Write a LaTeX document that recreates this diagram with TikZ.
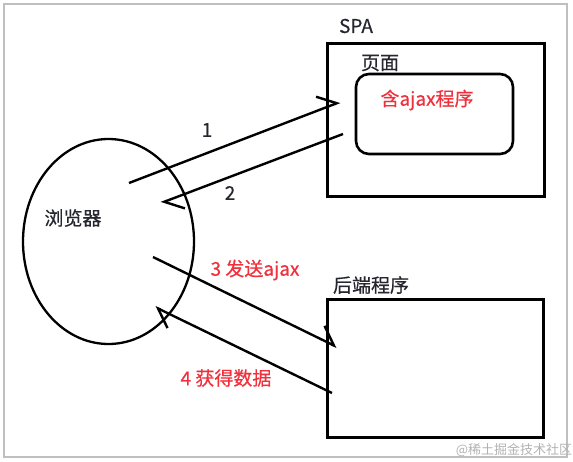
\documentclass[tikz,border=0pt]{standalone}
\usepackage{fontspec}
\setmainfont{Noto Sans CJK SC}[FakeBold=0.5]
\newfontfamily\wmfont{Noto Sans CJK SC}
\usetikzlibrary{shapes.geometric,arrows.meta}
\definecolor{redtxt}{HTML}{F0303C}
\definecolor{darktxt}{HTML}{262630}
\tikzset{
  boxst/.style={draw=black, line width=3pt, inner sep=0pt},
  lbl/.style={inner sep=0pt, font=\fontsize{19}{22}\selectfont, text=darktxt},
  redlbl/.style={lbl, text=redtxt},
  conn/.style={draw=black, line width=2.4pt,
    -{Straight Barb[harpoon, length=17pt, width=27pt, line width=2.4pt]}},
}
\begin{document}
\begin{tikzpicture}[x=1pt,y=-1pt]
\useasboundingbox (0,0) rectangle (573,461);
\draw[black!25, line width=1.5pt] (4,4) rectangle (567,457);

% nodes
\node[ellipse, draw=black, line width=2.3pt, minimum width=171pt, minimum height=205pt, inner sep=0pt] (browser) at (108.5,241.5) {};
\node[boxst, minimum width=217pt, minimum height=153pt] (spa) at (435.5,119.5) {};
\node[draw=black, line width=2.6pt, rounded corners=13pt, minimum width=157pt, minimum height=80pt, inner sep=0pt] (prog) at (434.5,114) {};
\node[boxst, minimum width=216pt, minimum height=138pt] (backend) at (435,368) {};

% texts
\node[lbl] (spalbl) at (356,26) {SPA};
\node[lbl] (pagelbl) at (380,63) {页面};
\node[redlbl] (proglbl) at (427,100) {含ajax程序};
\node[lbl] (browserlbl) at (73,218) {浏览器};
\node[lbl] (backendlbl) at (371,285) {后端程序};
\node[lbl] (l1) at (207,130) {1};
\node[lbl] (l2) at (230,193) {2};
\node[redlbl] (l3) at (255,270) {3 发送ajax};
\node[redlbl] (l4) at (226,378) {4 获得数据};
\node[inner sep=0pt, font=\wmfont\fontsize{13}{15}\selectfont, text=black!30] (wm) at (514,450) {@稀土掘金技术社区};

% connector end points
\coordinate (a1s) at (129,183);
\coordinate (a1e) at (340,102);
\coordinate (a2s) at (343,134);
\coordinate (a2e) at (161,203);
\coordinate (a3s) at (153,257);
\coordinate (a3e) at (337,347);
\coordinate (a4s) at (332,393);
\coordinate (a4e) at (155,307);

\draw[conn] (a1s) -- (a1e);
\draw[conn] (a2s) -- (a2e);
\draw[conn] (a3s) -- (a3e);
\draw[conn] (a4s) -- (a4e);
\end{tikzpicture}
\end{document}
